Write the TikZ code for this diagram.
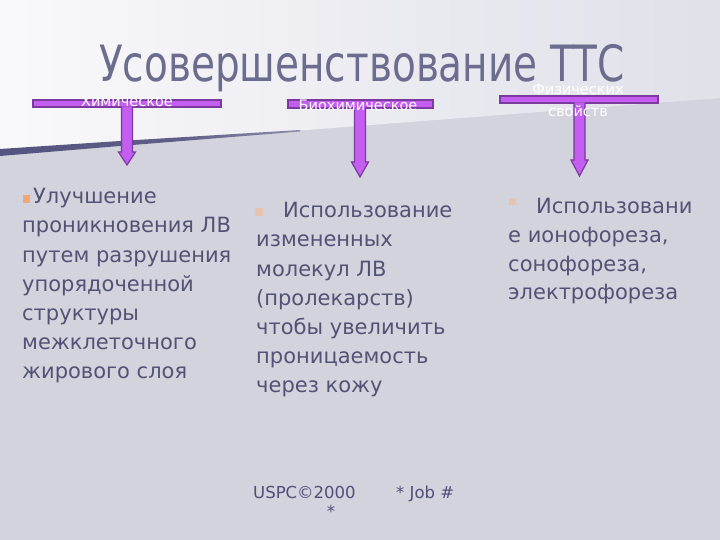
\documentclass[tikz,border=0pt]{standalone}
\usepackage{fontspec}
\usepackage{graphicx}
\setmainfont{DejaVu Sans}
\usetikzlibrary{calc}

\definecolor{bgc}{HTML}{D3D3DE}
\definecolor{topmid}{HTML}{E9E9F0}
\definecolor{topend}{HTML}{D6D6E0}
\definecolor{txt}{HTML}{525274}
\definecolor{ttl}{HTML}{6C6C8F}
\definecolor{barf}{HTML}{C45EF0}
\definecolor{bard}{HTML}{7A3A9E}
\definecolor{bulA}{HTML}{F0A878}
\definecolor{bulB}{HTML}{E8C4AE}
\definecolor{edgec}{HTML}{4A4A78}
\definecolor{foot}{HTML}{4E4E78}

\pgfdeclarehorizontalshading{topsh}{100bp}{color(0bp)=(white); color(15bp)=(white); color(55bp)=(topmid); color(100bp)=(topend)}
\pgfdeclarehorizontalshading{edgesh}{100bp}{color(0bp)=(edgec); color(55bp)=(edgec!85!bgc); color(80bp)=(edgec!45!bgc); color(100bp)=(bgc)}

\begin{document}
\begin{tikzpicture}[x=1pt,y=-1pt,
  body/.style={anchor=base west, inner sep=0, text=txt, font=\fontsize{21}{25}\selectfont},
  barbox/.style={draw=bard, fill=barf, line width=1.2pt, inner sep=0},
  barlabel/.style={anchor=base, inner sep=0, text=white, font=\fontsize{14.5}{17}\selectfont},
  arrowfill/.style={fill=barf},
  arrowline/.style={draw=bard, line width=1.2pt, line join=miter},
  footnote/.style={inner sep=0, text=foot, font=\fontsize{16.5}{20}\selectfont}
]
\useasboundingbox (0,0) rectangle (720,540);
% background
\fill[bgc] (0,0) rectangle (720,540);
\shade[shading=topsh] (0,0) -- (720,0) -- (720,98) -- (300,130.5) -- (0,152) -- cycle;
\shade[shading=edgesh] (0,149) -- (120,141) -- (300,130) -- (300,131.5) -- (120,146) -- (0,156) -- cycle;

% title
\node[anchor=base, inner sep=0, text=ttl, font=\fontsize{50}{60}\selectfont] (title) at (362,82) {\scalebox{0.78}[1]{Усовершенствование ТТС}};

% bars
\node[barbox, minimum width=188, minimum height=7] (b1) at (127,103.5) {};
\node[barbox, minimum width=145, minimum height=8] (b2) at (360.5,104) {};
\node[barbox, minimum width=158, minimum height=7] (b3) at (579,99.5) {};

% fat arrows
\foreach \n/\cx/\tp/\hy/\ty in {1/127/106.5/152/165, 2/360/107.5/162/177, 3/579.5/102.5/160/176}{
  \coordinate (t\n) at (\cx,\ty);
  \fill[arrowfill] (\cx-5.5,\tp) -- (\cx-5.5,\hy) -- (\cx-8.5,\hy) -- (t\n) -- (\cx+8.5,\hy) -- (\cx+5.5,\hy) -- (\cx+5.5,\tp) -- cycle;
  \draw[arrowline] (\cx-5.5,\tp+0.6) -- (\cx-5.5,\hy) -- (\cx-8.5,\hy) -- (t\n) -- (\cx+8.5,\hy) -- (\cx+5.5,\hy) -- (\cx+5.5,\tp+0.6);
}

% bar labels
\node[barlabel] (lab1) at (127,107) {Химическое};
\node[barlabel] (lab2) at (358,111) {Биохимическое};
\node[barlabel] (lab3a) at (578,95) {Физических};
\node[barlabel] (lab3b) at (578,117) {свойств};

% bullets
\fill[bulA] (23,195) rectangle (30,203);
\fill[bulB] (255,208) rectangle (263,216);
\fill[bulB] (509,198) rectangle (516,205);

% left column
\node[body] (l1) at (33,204) {Улучшение};
\foreach \t [count=\i from 2] in {{проникновения ЛВ},{путем разрушения},{упорядоченной},{структуры},{межклеточного},{жирового слоя}}{
  \node[body] (l\i) at (22,204+29*\i-29) {\t};
}

% middle column
\node[body] (m1) at (283,218) {Использование};
\foreach \t [count=\i from 2] in {{измененных},{молекул ЛВ},{(пролекарств)},{чтобы увеличить},{проницаемость},{через кожу}}{
  \node[body] (m\i) at (256,218+29*\i-29) {\t};
}

% right column
\node[body] (r1) at (536,214) {Использовани};
\foreach \t [count=\i from 2] in {{е ионофореза,},{сонофореза,},{электрофореза}}{
  \node[body] (r\i) at (508,214+28.5*\i-28.5) {\t};
}

% footer
\node[footnote, anchor=base west] (usp) at (253,498) {USPC©2000};
\node[footnote, anchor=base] (star) at (331,517) {*};
\node[footnote, anchor=base west] (job) at (396,498) {* Job \#};
\end{tikzpicture}
\end{document}
